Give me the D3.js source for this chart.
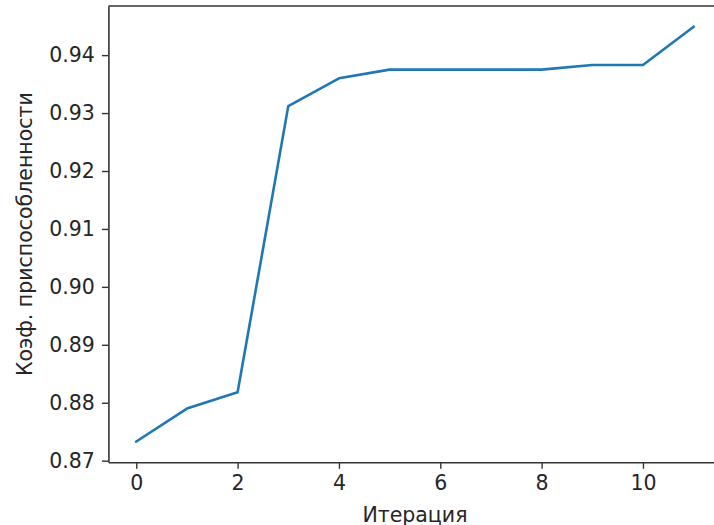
<!DOCTYPE html>
<html>
<head>
<meta charset="utf-8">
<script src="https://cdn.jsdelivr.net/npm/d3@7"></script>
<style>
  body { margin: 0; background: #fff; }
  svg text { font-family: "DejaVu Sans", sans-serif; fill: #262626; }
</style>
</head>
<body>
<div id="chart"></div>
<script>
const iterations = [0, 1, 2, 3, 4, 5, 6, 7, 8, 9, 10, 11];
const fitness = [0.8733, 0.8790, 0.8818, 0.9312, 0.9360, 0.9375, 0.9375, 0.9375, 0.9375, 0.9383, 0.9383, 0.9449];
const xTicks = [0, 2, 4, 6, 8, 10];
const yTicks = [0.87, 0.88, 0.89, 0.90, 0.91, 0.92, 0.93, 0.94];
const xLabel = 'Итерация';
const yLabel = 'Коэф. приспособленности';

const width = 714, height = 525;
const plotLeft = 108.4, plotRight = 721.5, plotTop = 6, plotBottom = 462.3;
const fontSize = 20.5;

const svg = d3.select('#chart').append('svg')
  .attr('width', width)
  .attr('height', height);

// matplotlib-style 5% margins
function padded(ext) {
  const d = (ext[1] - ext[0]) * 0.05;
  return [ext[0] - d, ext[1] + d];
}

const x = d3.scaleLinear()
  .domain(padded(d3.extent(iterations)))
  .range([plotLeft, plotRight]);

const y = d3.scaleLinear()
  .domain(padded(d3.extent(fitness)))
  .range([plotBottom, plotTop]);

const xAxis = svg.append('g')
  .attr('transform', `translate(0,${plotBottom})`)
  .call(d3.axisBottom(x).tickValues(xTicks).tickFormat(d3.format('d'))
    .tickSize(6.5).tickSizeOuter(0).tickPadding(7));

const yAxis = svg.append('g')
  .attr('transform', `translate(${plotLeft},0)`)
  .call(d3.axisLeft(y).tickValues(yTicks).tickFormat(d3.format('.2f'))
    .tickSize(6.5).tickSizeOuter(0).tickPadding(7));

[xAxis, yAxis].forEach(g => {
  g.attr('font-family', null);
  g.selectAll('text').attr('font-size', fontSize).attr('fill', '#262626');
  g.selectAll('line').attr('stroke', '#333').attr('stroke-width', 1.4);
  g.select('.domain').attr('stroke', '#333').attr('stroke-width', 1.6);
});

// top spine (the right one falls off the page)
svg.append('line')
  .attr('x1', plotLeft).attr('x2', plotRight)
  .attr('y1', plotTop).attr('y2', plotTop)
  .attr('stroke', '#333').attr('stroke-width', 1.6);

const line = d3.line()
  .x((d, i) => x(iterations[i]))
  .y(d => y(d));

svg.append('path')
  .datum(fitness)
  .attr('d', line)
  .attr('fill', 'none')
  .attr('stroke', '#1f77b4')
  .attr('stroke-width', 2.6)
  .attr('stroke-linejoin', 'round')
  .attr('stroke-linecap', 'square');

svg.append('text')
  .attr('x', (plotLeft + plotRight) / 2)
  .attr('y', 521.5)
  .attr('text-anchor', 'middle')
  .attr('font-size', fontSize)
  .text(xLabel);

svg.append('text')
  .attr('transform', `translate(32,${(plotTop + plotBottom) / 2}) rotate(-90)`)
  .attr('text-anchor', 'middle')
  .attr('font-size', fontSize)
  .text(yLabel);
</script>
</body>
</html>
